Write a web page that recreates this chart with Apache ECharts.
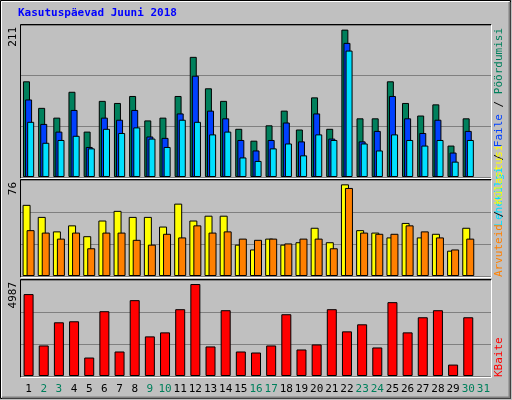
<!DOCTYPE html>
<html><head><meta charset="utf-8">
<script src="https://cdn.jsdelivr.net/npm/echarts@6/dist/echarts.min.js"></script>
<style>html,body{margin:0;padding:0;background:#C0C0C0}#c{width:512px;height:400px}</style>
</head><body><div id="c"></div>
<script>
const days = ['1','2','3','4','5','6','7','8','9','10','11','12','13','14','15','16','17','18','19','20','21','22','23','24','25','26','27','28','29','30','31'];
const weekend = ['2','3','9','10','16','17','23','24','30','31'];
const hits  = [137,99,85,122,65,109,106,116,81,85,116,172,127,109,69,52,74,95,68,114,69,211,84,84,137,106,88,104,45,84,null];
const files = [111,76,65,96,43,85,82,96,58,56,91,145,95,84,53,38,53,78,51,91,55,192,51,66,116,84,63,82,35,66,null];
const pages = [79,49,53,59,41,69,63,71,55,43,82,79,61,65,28,23,41,48,31,61,53,181,48,38,61,53,45,53,22,53,null];
const visits= [59,49,37,42,33,46,54,49,49,41,60,46,50,50,26,22,31,26,28,40,28,76,38,36,32,44,32,35,21,40,null];
const sites = [38,36,31,36,23,36,36,30,26,35,32,42,36,37,31,30,31,27,31,31,23,73,36,35,35,42,37,32,22,31,null];
const kbytes= [4441,1656,2912,2967,1001,3513,1329,4113,2148,2366,3622,4987,1602,3567,1329,1274,1656,3349,1438,1711,3622,2421,2803,1547,4004,2366,3185,3567,619,3185,null];
const maxLabels = ['211','76','4987'];
const title = 'Kasutuspäevad Juuni 2018';

const F = 'DejaVu Sans Mono';
const L = 21, R = 21;
const panels = [{top:25,h:152,max:217.6},{top:180,h:96,max:79.6},{top:280,h:96,max:5205}];
const grids = panels.map(p=>({left:L,right:R,top:p.top,height:p.h}));
const xAxes = panels.map((p,i)=>({type:'category',gridIndex:i,data:days,
  axisLine:{show:false},axisTick:{show:false},
  axisLabel:{show:i===2,interval:0,fontFamily:F,fontSize:11,margin:8,
    color:(v)=>weekend.includes(v)?'#00805C':'#000'}}));
const yAxes = panels.map((p,i)=>({type:'value',gridIndex:i,min:0,max:p.max,interval:p.max/3,
  axisLabel:{show:false},axisLine:{show:false},axisTick:{show:false},
  splitLine:{show:true,lineStyle:{color:'#808080',width:1}}}));
const bs = (name,data,i,color,w,gap)=>({name,type:'bar',data,xAxisIndex:i,yAxisIndex:i,
  barWidth:w,barGap:gap,itemStyle:{color,borderColor:'#000',borderWidth:1},animation:false,silent:true});
const series = [
  bs('Pöördumisi',hits,0,'#00805C',7,'-70%'),
  bs('Faile',files,0,'#0040FF',7,'-70%'),
  bs('Lehekülgi',pages,0,'#00E0FF',7,'-70%'),
  bs('Külastusi',visits,1,'#FFFF00',8,'-50%'),
  bs('Arvuteid',sites,1,'#FF8000',8,'-50%'),
  bs('KBaite',kbytes,2,'#FF0000',10,'0%')];

const graphic = [
  {type:'rect',z:-10,shape:{x:0.5,y:0.5,width:510,height:398},style:{fill:'#C0C0C0',stroke:'#000'}},
  {type:'polyline',z:-9,shape:{points:[[1.5,397.5],[1.5,1.5],[509.5,1.5]]},style:{stroke:'#fff',fill:null}},
  {type:'polyline',z:-9,shape:{points:[[2,397.5],[509.5,397.5],[509.5,2]]},style:{stroke:'#808080',fill:null,lineWidth:2}},
  {type:'text',left:18,top:8,style:{text:title,font:'bold 11px "'+F+'"',fill:'#0000FF'}}
];
panels.forEach(p=>{
  const x0=L-0.5,x1=512-R+0.5,y0=p.top-0.5,y1=p.top+p.h+1.5;
  graphic.push({type:'polyline',z:10,shape:{points:[[x0,y1],[x0,y0],[x1,y0]]},style:{stroke:'#000',fill:null}});
  graphic.push({type:'polyline',z:10,shape:{points:[[x0,y1],[x1,y1],[x1,y0]]},style:{stroke:'#fff',fill:null}});
});
maxLabels.forEach((t,i)=>{
  graphic.push({type:'text',x:8,y:panels[i].top+2,rotation:Math.PI/2,
    style:{text:t,font:'11px "'+F+'"',fill:'#000',align:'right',verticalAlign:'top'}});
});
const side = [
  [[['Lehekülgi','#00E0FF'],[' / ','#000'],['Faile','#0040FF'],[' / ','#000'],['Pöördumisi','#00805C']],0,'right'],
  [[['Arvuteid','#FF8000'],[' / ','#000'],['Külastusi','#FFFF00']],1,'left'],
  [[['KBaite','#FF0000']],2,'left']];
side.forEach(([parts,i,al])=>{
  const p=panels[i];
  let rich={},txt='';
  parts.forEach((pt,k)=>{rich['s'+k]={fill:pt[1],font:'11px "'+F+'"'};txt+='{s'+k+'|'+pt[0]+'}';});
  graphic.push({type:'text',x:494,y:al==='right'?p.top+3:p.top+p.h+1,rotation:Math.PI/2,
    style:{text:txt,rich,font:'11px "'+F+'"',align:al,verticalAlign:'top'}});
});

const chart = echarts.init(document.getElementById('c'));
chart.setOption({animation:false,backgroundColor:'#C0C0C0',grid:grids,xAxis:xAxes,yAxis:yAxes,series,graphic});
</script></body></html>
